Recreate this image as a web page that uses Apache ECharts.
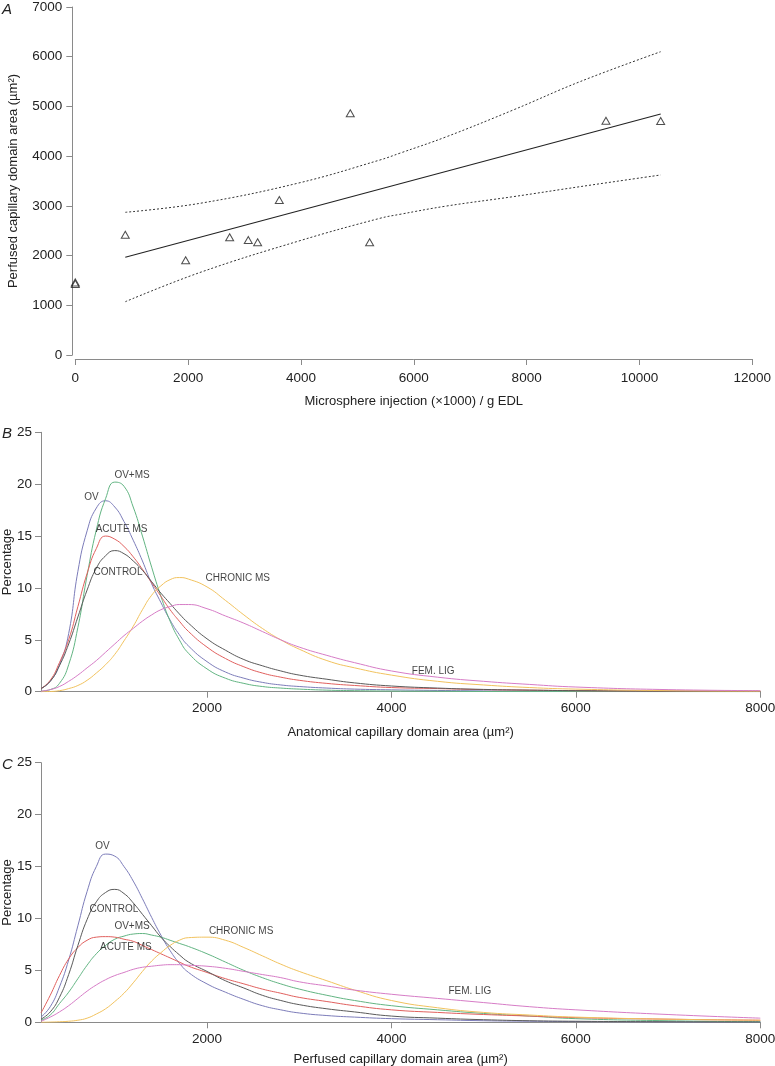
<!DOCTYPE html>
<html>
<head>
<meta charset="utf-8">
<script src="https://cdn.jsdelivr.net/npm/echarts@6/dist/echarts.min.js"></script>
<style>
html,body{margin:0;padding:0;background:#fff;}
#chart{width:775px;height:1066px;}
</style>
</head>
<body>
<div id="chart"></div>
<script>
// ---------- Panel A data ----------
var injX = [0, 0, 886, 1956, 2736, 3066, 3232, 3616, 4874, 5217, 9406, 10376];
var perfArea = [1460, 1430, 2420, 1905, 2367, 2313, 2267, 3118, 4862, 2267, 4713, 4707];
var fitX = [886, 10376];
var fitY = [1965, 4848];
var ciUpperX = [886, 2210, 3983, 5401, 5755, 6583, 7763, 8945, 10376];
var ciUpperY = [2870, 3051, 3466, 3923, 4060, 4392, 4929, 5498, 6101];
var ciLowerX = [886, 2210, 3983, 5401, 5755, 6583, 7763, 8945, 10376];
var ciLowerY = [1072, 1660, 2300, 2750, 2830, 2997, 3185, 3386, 3621];
var aXTicks = [0, 12000, 2000];
var aYTicks = [0, 7000, 1000];

// ---------- Panels B / C data (x = domain area, y = percentage) ----------
var areaX = [200,300,400,500,600,700,800,900,1000,1100,1200,1300,1400,1500,1600,1700,1800,2000,2200,2400,2600,2800,3000,3300,3600,4000,4500,5000,5500,6000,7000,8000];
var seriesNames = ['OV', 'OV+MS', 'ACUTE MS', 'CONTROL', 'CHRONIC MS', 'FEM. LIG'];
var seriesColors = ['#7c7cb9', '#62b482', '#e0605e', '#5a5a5a', '#f1c25e', '#d67cc6'];

var ovB      = [0.3,1.0,2.6,5.6,11.6,15.5,17.7,18.4,17.8,16.4,14.6,12.6,10.4,8.6,6.9,5.5,4.4,2.9,1.9,1.3,0.9,0.65,0.5,0.35,0.25,0.18,0.12,0.08,0.05,0.04,0.02,0.01];
var ovmsB    = [0.05,0.2,0.8,2.6,6.2,11.2,15.6,18.6,20.2,19.8,17.8,15.0,12.0,9.2,6.8,5.0,3.7,2.2,1.3,0.8,0.5,0.35,0.25,0.15,0.1,0.06,0.04,0.02,0.01,0.01,0,0];
var acuteB   = [0.3,1.1,2.8,5.0,8.2,11.4,13.8,15.0,14.7,14.0,13.0,11.8,10.5,9.2,7.9,6.8,5.8,4.3,3.2,2.4,1.8,1.4,1.1,0.8,0.6,0.4,0.3,0.2,0.15,0.1,0.06,0.04];
var controlB = [0.3,1.0,2.5,4.6,7.2,9.8,11.9,13.1,13.6,13.3,12.6,11.7,10.6,9.5,8.5,7.5,6.6,5.1,4.0,3.1,2.5,2.0,1.6,1.2,0.85,0.55,0.35,0.22,0.15,0.1,0.05,0.03];
var chronicB = [0,0.02,0.1,0.3,0.6,1.1,1.8,2.6,3.6,4.9,6.3,7.9,9.3,10.2,10.8,11.0,10.85,10.1,8.8,7.4,6.1,5.0,4.1,3.0,2.3,1.6,1.0,0.65,0.4,0.25,0.1,0.05];
var femB     = [0.05,0.2,0.5,1.0,1.6,2.3,3.0,3.8,4.6,5.4,6.1,6.8,7.4,7.9,8.2,8.4,8.4,8.0,7.3,6.6,5.8,5.0,4.3,3.5,2.8,2.0,1.4,1.0,0.7,0.45,0.2,0.1];

var ovC      = [0.5,1.5,3.4,6.0,9.3,12.6,15.0,16.2,16.0,15.0,13.6,11.9,10.1,8.4,6.9,5.7,4.8,3.7,2.9,2.2,1.6,1.2,0.9,0.65,0.5,0.35,0.25,0.15,0.1,0.07,0.04,0.02];
var ovmsC    = [0.2,0.7,1.8,2.9,4.2,5.5,6.6,7.4,8.0,8.3,8.5,8.55,8.4,8.2,7.9,7.6,7.3,6.6,5.8,5.0,4.3,3.7,3.2,2.6,2.1,1.6,1.2,0.85,0.6,0.35,0.15,0.05];
var acuteC   = [0.9,2.6,4.5,6.1,7.2,7.9,8.2,8.25,8.2,8.0,7.8,7.4,7.0,6.6,6.2,5.8,5.4,4.8,4.2,3.7,3.2,2.8,2.4,2.0,1.6,1.2,0.95,0.75,0.6,0.45,0.3,0.2];
var controlC = [0.3,1.0,2.4,4.6,7.4,9.9,11.6,12.5,12.8,12.4,11.5,10.4,9.3,8.2,7.3,6.5,5.8,4.9,4.0,3.3,2.6,2.1,1.7,1.3,1.0,0.6,0.4,0.25,0.15,0.1,0.05,0.03];
var chronicC = [0,0.02,0.05,0.1,0.2,0.4,0.8,1.3,2.0,2.8,3.8,4.9,5.9,6.7,7.4,7.9,8.15,8.2,7.9,7.2,6.4,5.6,4.9,4.0,3.1,2.1,1.4,0.95,0.7,0.5,0.3,0.2];
var femC     = [0.1,0.5,1.0,1.6,2.3,3.0,3.6,4.1,4.5,4.8,5.1,5.3,5.4,5.5,5.55,5.55,5.5,5.4,5.2,4.9,4.6,4.3,3.9,3.5,3.1,2.7,2.3,1.9,1.5,1.2,0.75,0.4];

var areaTicks = [2000, 4000, 6000, 8000];
var pctTicks = [0, 25, 5];

// curve labels: [text, x, y]
var labelsB = [['OV+MS', 1187, 20.9], ['OV', 747, 18.7], ['ACUTE MS', 1073, 15.7], ['CONTROL', 1035, 11.5], ['CHRONIC MS', 2334, 10.9], ['FEM. LIG', 4453, 2.0]];
var labelsC = [['OV', 866, 17.0], ['CONTROL', 991, 10.9], ['OV+MS', 1187, 9.27], ['ACUTE MS', 1120, 7.2], ['CHRONIC MS', 2370, 8.8], ['FEM. LIG', 4850, 2.95]];

// ---------- chart ----------
var FONT = '"Liberation Sans", Arial, Helvetica, sans-serif';
var axisGray = '#8a8a8a';
function pair(xs, ys) { return xs.map(function (x, i) { return [x, ys[i]]; }); }
function plain(v) { return String(v); }

function baseAxis(extra) {
  var a = {
    axisLine: { show: true, onZero: false, lineStyle: { color: axisGray, width: 1 } },
    axisTick: { show: true, length: 6, lineStyle: { color: axisGray, width: 1 } },
    axisLabel: { color: '#222', fontSize: 13.5, fontFamily: FONT, formatter: plain },
    splitLine: { show: false },
    nameTextStyle: { color: '#222', fontSize: 13, fontFamily: FONT },
    nameLocation: 'middle'
  };
  for (var k in extra) {
    if (typeof extra[k] === 'object' && !Array.isArray(extra[k]) && a[k]) {
      for (var j in extra[k]) a[k][j] = extra[k][j];
    } else a[k] = extra[k];
  }
  return a;
}

var grids = [
  { left: 75.3, right: 22.7, top: 7, height: 348, containLabel: false, outerBoundsMode: 'none' },
  { left: 41, right: 14.7, top: 432.3, height: 259.4, containLabel: false, outerBoundsMode: 'none' },
  { left: 41, right: 14.7, top: 762.7, height: 259.6, containLabel: false, outerBoundsMode: 'none' }
];

var xAxes = [
  baseAxis({ type: 'value', gridIndex: 0, min: aXTicks[0], max: aXTicks[1], interval: aXTicks[2], offset: 4,
    name: 'Microsphere injection (\u00d71000) / g EDL', nameGap: 36, axisLabel: { margin: 12 } }),
  baseAxis({ type: 'value', gridIndex: 1, min: 200, max: 8000,
    name: 'Anatomical capillary domain area (\u00b5m\u00b2)', nameGap: 34,
    axisLabel: { customValues: areaTicks, margin: 10 }, axisTick: { customValues: areaTicks } }),
  baseAxis({ type: 'value', gridIndex: 2, min: 200, max: 8000,
    name: 'Perfused capillary domain area (\u00b5m\u00b2)', nameGap: 31,
    axisLabel: { customValues: areaTicks, margin: 10 }, axisTick: { customValues: areaTicks } })
];
var yAxes = [
  baseAxis({ type: 'value', gridIndex: 0, min: aYTicks[0], max: aYTicks[1], interval: aYTicks[2], offset: 3,
    name: 'Perfused capillary domain area (\u00b5m\u00b2)', nameGap: 52, axisLabel: { margin: 10 } }),
  baseAxis({ type: 'value', gridIndex: 1, min: pctTicks[0], max: pctTicks[1], interval: pctTicks[2],
    name: 'Percentage', nameGap: 27, nameMoveOverlap: false, axisLabel: { margin: 9 } }),
  baseAxis({ type: 'value', gridIndex: 2, min: pctTicks[0], max: pctTicks[1], interval: pctTicks[2],
    name: 'Percentage', nameGap: 27, nameMoveOverlap: false, axisLabel: { margin: 9 } })
];

var series = [];
// Panel A
series.push({ type: 'scatter', xAxisIndex: 0, yAxisIndex: 0, data: pair(injX, perfArea),
  symbol: 'triangle', symbolSize: [8, 7],
  itemStyle: { color: 'rgba(255,255,255,0)', borderColor: '#222', borderWidth: 1 }, z: 5 });
series.push({ type: 'line', xAxisIndex: 0, yAxisIndex: 0, data: pair(fitX, fitY), showSymbol: false,
  lineStyle: { color: '#222', width: 1.1 } });
series.push({ type: 'line', xAxisIndex: 0, yAxisIndex: 0, data: pair(ciUpperX, ciUpperY), showSymbol: false, smooth: 0.4,
  lineStyle: { color: '#333', width: 1, type: [2, 2] } });
series.push({ type: 'line', xAxisIndex: 0, yAxisIndex: 0, data: pair(ciLowerX, ciLowerY), showSymbol: false, smooth: 0.4,
  lineStyle: { color: '#333', width: 1, type: [2, 2] } });

var bSets = [ovB, ovmsB, acuteB, controlB, chronicB, femB];
var cSets = [ovC, ovmsC, acuteC, controlC, chronicC, femC];
[bSets, cSets].forEach(function (sets, p) {
  sets.forEach(function (ys, i) {
    series.push({ type: 'line', name: seriesNames[i], xAxisIndex: p + 1, yAxisIndex: p + 1,
      data: pair(areaX, ys), showSymbol: false, smooth: 0.5,
      lineStyle: { color: seriesColors[i], width: 1 } });
  });
});
[labelsB, labelsC].forEach(function (labs, p) {
  series.push({ type: 'scatter', xAxisIndex: p + 1, yAxisIndex: p + 1, symbolSize: 0, silent: true, z: 10,
    data: labs.map(function (l) { return { value: [l[1], l[2]], label: { formatter: l[0] } }; }),
    label: { show: true, position: 'inside', color: '#111', fontSize: 10, fontFamily: FONT } });
});

var chart = echarts.init(document.getElementById('chart'), null, { renderer: 'canvas' });
chart.setOption({
  animation: false,
  backgroundColor: '#ffffff',
  grid: grids,
  xAxis: xAxes,
  yAxis: yAxes,
  series: series,
  graphic: [
    { type: 'text', left: 2, top: 2, style: { text: 'A', font: 'italic 15px ' + FONT, fill: '#222' } },
    { type: 'text', left: 2, top: 426, style: { text: 'B', font: 'italic 15px ' + FONT, fill: '#222' } },
    { type: 'text', left: 2, top: 757, style: { text: 'C', font: 'italic 15px ' + FONT, fill: '#222' } }
  ]
});
</script>
</body>
</html>
